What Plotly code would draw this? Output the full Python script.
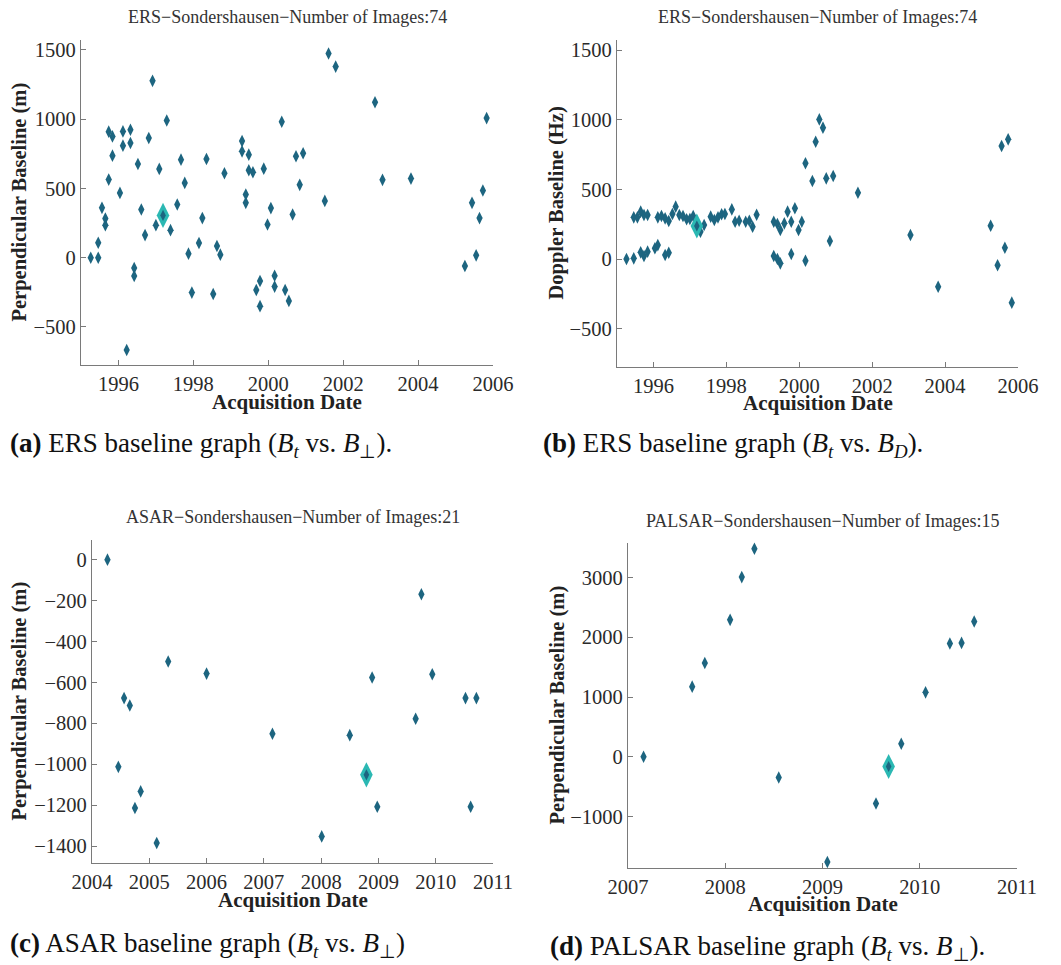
import plotly.graph_objects as go

# ---------------- data ----------------
ers_dates = [1995.26, 1995.46, 1995.46, 1995.56, 1995.65, 1995.65, 1995.74, 1995.74, 1995.84, 1995.84,
             1996.04, 1996.12, 1996.12, 1996.22, 1996.32, 1996.32, 1996.42, 1996.42, 1996.52, 1996.61,
             1996.71, 1996.81, 1996.91, 1997.00, 1997.09, 1997.19, 1997.29, 1997.39, 1997.57, 1997.67,
             1997.77, 1997.87, 1997.96, 1998.15, 1998.24, 1998.35, 1998.53, 1998.63, 1998.72, 1998.83,
             1999.30, 1999.30, 1999.40, 1999.40, 1999.48, 1999.48, 1999.59, 1999.68, 1999.78, 1999.78,
             1999.88, 1999.98, 2000.07, 2000.17, 2000.17, 2000.36, 2000.45, 2000.55, 2000.65, 2000.74,
             2000.84, 2000.93, 2001.51, 2001.61, 2001.80, 2002.85, 2003.05, 2003.81, 2005.25, 2005.44,
             2005.55, 2005.64, 2005.73, 2005.83]
ers_perp = [0, 108, 0, 360, 283, 235, 564, 910, 876, 737,
            468, 912, 809, -667, 924, 828, -74, -132, 677, 348,
            163, 864, 1277, 235, 641, 305, 991, 199, 384, 708,
            540, 29, -252, 106, 286, 713, -262, 84, 22, 610,
            842, 768, 456, 396, 744, 631, 617, -233, -168, -350,
            643, 240, 358, -130, -209, 982, -233, -312, 312, 732,
            526, 754, 410, 1474, 1380, 1123, 562, 571, -60, 396,
            17, 286, 485, 1008]
ers_doppler = [0, 299, 5, 299, 340, 48, 316, 22, 53, 316,
               77, 100, 299, 309, 29, 292, 45, 273, 323, 376,
               316, 309, 285, 287, 309, 237, 196, 244, 304, 280,
               299, 321, 323, 356, 268, 275, 268, 275, 232, 318,
               268, 22, 251, 0, 208, -31, 256, 340, 36, 268,
               364, 208, 268, 687, -12, 560, 842, 1002, 943, 579,
               129, 596, None, 476, None, None, 172, -199, 239, -45,
               811, 81, 859, -313]
ers_master = 25

asar_dates = [2004.27, 2004.46, 2004.56, 2004.66, 2004.75, 2004.85, 2005.13, 2005.33, 2006.00, 2007.15,
              2008.01, 2008.50, 2008.79, 2008.89, 2008.98, 2009.65, 2009.75, 2009.94, 2010.52, 2010.61,
              2010.71]
asar_perp = [0, -1013, -677, -713, -1214, -1133, -1385, -498, -557, -851,
             -1353, -858, -1052, -576, -1208, -778, -169, -560, -677, -1208,
             -677]
asar_master = 12

palsar_dates = [2007.16, 2007.66, 2007.79, 2008.05, 2008.17, 2008.30, 2008.55, 2009.05, 2009.55, 2009.68,
                2009.81, 2010.06, 2010.31, 2010.43, 2010.56]
palsar_perp = [0, 1173, 1570, 2291, 3006, 3480, -346, -1760, -782, -162,
               218, 1078, 1894, 1905, 2263]
palsar_master = 9

titles = ["ERS\u2212Sondershausen\u2212Number of Images:74",
          "ERS\u2212Sondershausen\u2212Number of Images:74",
          "ASAR\u2212Sondershausen\u2212Number of Images:21",
          "PALSAR\u2212Sondershausen\u2212Number of Images:15"]
ylabels = ["Perpendicular Baseline (m)", "Doppler Baseline (Hz)",
           "Perpendicular Baseline (m)", "Perpendicular Baseline (m)"]
captions = ["<b>(a)</b> ERS baseline graph (<i>B<sub>t</sub></i> vs. <i>B</i><sub>\u22a5</sub>).",
            "<b>(b)</b> ERS baseline graph (<i>B<sub>t</sub></i> vs. <i>B<sub>D</sub></i>).",
            "<b>(c)</b> ASAR baseline graph (<i>B<sub>t</sub></i> vs. <i>B</i><sub>\u22a5</sub>)",
            "<b>(d)</b> PALSAR baseline graph (<i>B<sub>t</sub></i> vs. <i>B</i><sub>\u22a5</sub>)."]

# ---------------- style ----------------
PAGE_W, PAGE_H = 1061, 965
OFF = 8                       # default body margin of the html page
W, H = PAGE_W - OFF, PAGE_H - OFF
DARK = "#1d6580"
CYAN = "#2bb8b3"
SERIF = "Liberation Serif"
AXCOL = "#7a7a7a"

def fx(px):
    return (px - OFF) / W

def fy(py):
    return 1 - (py - OFF) / H

panels = [
    dict(x=ers_dates, y=ers_perp, m=ers_master, px=(81, 493), py=(40, 365),
         xr=[1995, 2006], yr=[-775, 1572], xt=[1996, 1998, 2000, 2002, 2004, 2006],
         yt=[-500, 0, 500, 1000, 1500], ylx=19, tly=17, xly=402),
    dict(x=ers_dates, y=ers_doppler, m=ers_master, px=(617, 1018), py=(40, 367),
         xr=[1995, 2006], yr=[-775, 1572], xt=[1996, 1998, 2000, 2002, 2004, 2006],
         yt=[-500, 0, 500, 1000, 1500], ylx=556, tly=17, xly=403),
    dict(x=asar_dates, y=asar_perp, m=asar_master, px=(92, 493), py=(540, 863),
         xr=[2004, 2011], yr=[-1483, 96], xt=list(range(2004, 2012)),
         yt=[-1400, -1200, -1000, -800, -600, -400, -200, 0], ylx=19, tly=517, xly=900),
    dict(x=palsar_dates, y=palsar_perp, m=palsar_master, px=(628, 1017), py=(543, 868),
         xr=[2007, 2011], yr=[-1860, 3576], xt=[2007, 2008, 2009, 2010, 2011],
         yt=[-1000, 0, 1000, 2000, 3000], ylx=557, tly=521, xly=904),
]

def fmt(v):
    return ("\u2212" + str(abs(v))) if v < 0 else str(v)

fig = go.Figure()
annotations = []
for i, p in enumerate(panels):
    n = "" if i == 0 else str(i + 1)
    xa, ya = "x" + n, "y" + n
    fig.add_trace(go.Scatter(x=p["x"], y=p["y"], mode="markers", xaxis=xa, yaxis=ya,
                             marker=dict(symbol="diamond-tall", size=9, color=DARK),
                             showlegend=False, cliponaxis=False))
    m = p["m"]
    fig.add_trace(go.Scatter(x=[p["x"][m]], y=[p["y"][m]], mode="markers", xaxis=xa, yaxis=ya,
                             marker=dict(symbol="diamond-tall", size=18, color=CYAN),
                             showlegend=False, cliponaxis=False))
    fig.add_trace(go.Scatter(x=[p["x"][m]], y=[p["y"][m]], mode="markers", xaxis=xa, yaxis=ya,
                             marker=dict(symbol="diamond-tall", size=8, color=DARK),
                             showlegend=False, cliponaxis=False))
    x0, x1 = p["px"]
    y0, y1 = p["py"]
    common = dict(showgrid=False, zeroline=False, showline=True, linecolor=AXCOL, linewidth=1.3,
                  ticks="inside", ticklen=5, tickcolor=AXCOL, mirror=False, automargin=False,
                  tickfont=dict(family=SERIF, size=20.5, color="#2a2a2a"))
    fig.update_layout(**{
        "xaxis" + n: dict(domain=[fx(x0), fx(x1)], range=p["xr"], anchor=ya,
                          tickvals=p["xt"], ticktext=[str(t) for t in p["xt"]], **common),
        "yaxis" + n: dict(domain=[fy(y1), fy(y0)], range=p["yr"], anchor=xa,
                          tickvals=p["yt"], ticktext=[fmt(t) for t in p["yt"]], **common),
    })
    cx = (x0 + x1) / 2
    annotations.append(dict(text=titles[i], x=fx(cx), y=fy(p["tly"]), xref="paper", yref="paper",
                            xanchor="center", yanchor="middle", showarrow=False,
                            font=dict(family=SERIF, size=18, color="#333333")))
    annotations.append(dict(text="<b>Acquisition Date</b>", x=fx(cx), y=fy(p["xly"]),
                            xref="paper", yref="paper", xanchor="center", yanchor="middle",
                            showarrow=False, font=dict(family=SERIF, size=21, color="#222222")))
    annotations.append(dict(text="<b>" + ylabels[i] + "</b>", x=fx(p["ylx"]), y=fy((y0 + y1) / 2),
                            xref="paper", yref="paper", xanchor="center", yanchor="middle", textangle=-90,
                            showarrow=False, font=dict(family=SERIF, size=20.5, color="#222222")))

cap_pos = [(8, 445), (541, 445), (8, 945), (548, 948)]
for (cx, cy), c in zip(cap_pos, captions):
    annotations.append(dict(text=c, x=fx(cx), y=fy(cy), xref="paper", yref="paper",
                            xanchor="left", yanchor="middle", showarrow=False,
                            font=dict(family=SERIF, size=27, color="#111111")))

fig.update_layout(width=W, height=H, margin=dict(l=0, r=0, t=0, b=0, autoexpand=False),
                  plot_bgcolor="white", paper_bgcolor="white", annotations=annotations)

fig.write_html("out.html")
